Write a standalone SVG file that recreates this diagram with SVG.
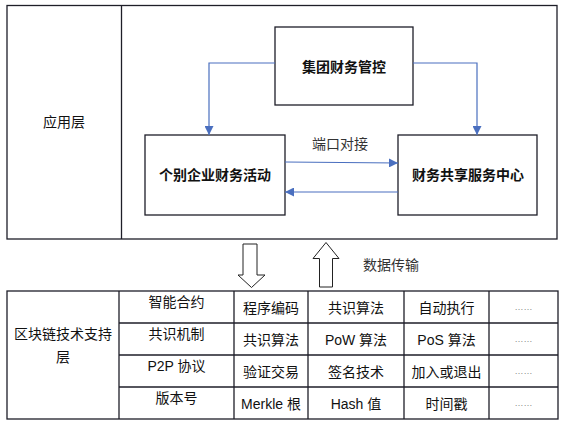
<svg xmlns="http://www.w3.org/2000/svg" width="564" height="424" viewBox="0 0 564 424">
<style>
.frame{fill:none;stroke:#1e1e28;stroke-width:1.3}
.box{fill:#fff;stroke:#1e1e28;stroke-width:1.3}
.t{font-family:"Liberation Sans","Noto Sans CJK SC",sans-serif;font-size:14px;fill:#111;text-anchor:middle;dominant-baseline:central}
.b{font-weight:bold}
.g{fill:#333}
.dots{font-family:"Liberation Sans","Noto Sans CJK SC",sans-serif;font-size:9px;fill:#888;text-anchor:middle;dominant-baseline:central}
.conn{fill:none;stroke:#4a6fbf;stroke-width:1.2}
.hollow{fill:#fff;stroke:#222;stroke-width:1}
</style>
<defs>
<marker id="ah" markerUnits="userSpaceOnUse" markerWidth="9" markerHeight="9" refX="9" refY="4.5" orient="auto">
<path d="M0,0 L9,4.5 L0,9 z" fill="#4a6fbf"/>
</marker>
</defs>
<rect width="564" height="424" fill="#fff"/>
<g id="app-layer">
<rect class="frame" x="7" y="5.5" width="550" height="233.5"/>
<line class="frame" x1="121.5" y1="5.5" x2="121.5" y2="239"/>
<text class="t" x="64" y="122">应用层</text>
</g>
<g id="node-group">
<rect class="box" x="275" y="27" width="138" height="78"/>
<text class="t b" x="344" y="67">集团财务管控</text>
</g>
<g id="node-enterprise">
<rect class="box" x="145" y="135" width="140" height="80"/>
<text class="t b" x="215" y="175">个别企业财务活动</text>
</g>
<g id="node-shared">
<rect class="box" x="398" y="135" width="139" height="80"/>
<text class="t b" x="468" y="175">财务共享服务中心</text>
</g>
<g id="connectors">
<path class="conn" d="M275,63 H209 V135" marker-end="url(#ah)"/>
<path class="conn" d="M413,63 H477 V135" marker-end="url(#ah)"/>
<path class="conn" d="M285,162 L398,163" marker-end="url(#ah)"/>
<path class="conn" d="M398,192 L285,192" marker-end="url(#ah)"/>
<text class="t g" x="340" y="144">端口对接</text>
<path class="hollow" d="M243,244 H257 V275 H265 L251.5,287.5 L238,275 H243 Z"/>
<path class="hollow" d="M319.5,287 V258.5 H313 L326,242.5 L339,258.5 H332.5 V287 Z"/>
<text class="t g" x="391" y="265">数据传输</text>
</g>
<g id="chain-layer">
<rect class="frame" x="7" y="291" width="551" height="128"/>
<line class="frame" x1="119" y1="291" x2="119" y2="419"/>
<line class="frame" x1="234" y1="291" x2="234" y2="419"/>
<line class="frame" x1="308" y1="291" x2="308" y2="419"/>
<line class="frame" x1="404" y1="291" x2="404" y2="419"/>
<line class="frame" x1="489" y1="291" x2="489" y2="419"/>
<line class="frame" x1="119" y1="323" x2="558" y2="323"/>
<line class="frame" x1="119" y1="355" x2="558" y2="355"/>
<line class="frame" x1="119" y1="387" x2="558" y2="387"/>
<text class="t" x="63" y="334">区块链技术支持</text>
<text class="t" x="63" y="357">层</text>
<text class="t" x="176.5" y="302">智能合约</text>
<text class="t" x="176.5" y="334">共识机制</text>
<text class="t" x="176.5" y="366">P2P 协议</text>
<text class="t" x="176.5" y="398">版本号</text>
<text class="t" x="271" y="308">程序编码</text>
<text class="t" x="356" y="308">共识算法</text>
<text class="t" x="446.5" y="308">自动执行</text>
<text class="dots" x="523.5" y="307">……</text>
<text class="t" x="271" y="340">共识算法</text>
<text class="t" x="356" y="340">PoW 算法</text>
<text class="t" x="446.5" y="340">PoS 算法</text>
<text class="dots" x="523.5" y="339">……</text>
<text class="t" x="271" y="372">验证交易</text>
<text class="t" x="356" y="372">签名技术</text>
<text class="t" x="446.5" y="372">加入或退出</text>
<text class="dots" x="523.5" y="371">……</text>
<text class="t" x="271" y="404">Merkle 根</text>
<text class="t" x="356" y="404">Hash 值</text>
<text class="t" x="446.5" y="404">时间戳</text>
<text class="dots" x="523.5" y="403">……</text>
</g>
</svg>
